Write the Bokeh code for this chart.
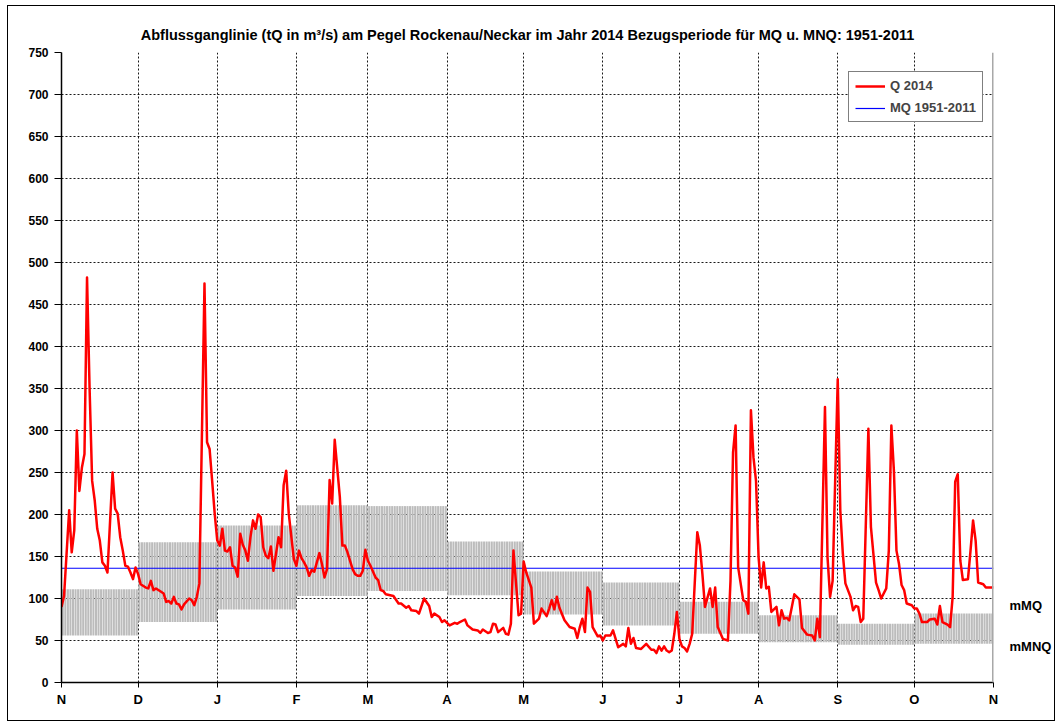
from bokeh.plotting import figure
from bokeh.models import Range1d, FixedTicker, Span, Legend, LegendItem, LinearAxis
from bokeh.embed import file_html
from bokeh.resources import INLINE

# ---------------- data ----------------
month_labels = ["N", "D", "J", "F", "M", "A", "M", "J", "J", "A", "S", "O", "N"]
month_days = [30, 31, 31, 28, 31, 30, 31, 30, 31, 31, 30, 31]
# monthly MQ (top of grey band) and MNQ (bottom of grey band), 1951-2011
month_mq = [111, 167, 187, 211, 210, 168, 132, 119, 96, 80, 70, 82]
month_mnq = [56, 72, 87, 103, 109, 104, 81, 68, 58, 48, 45, 46]
mq_1951_2011 = 136
side_label_values = [92, 43]
side_label_texts = ["mMQ", "mMNQ"]

# daily discharge 2014 (day of hydrological year, m3/s)
q_day = [0, 1, 3, 4, 5, 6, 7, 8, 9, 10, 11, 12, 13, 14, 15, 16, 17, 18, 20, 21, 22, 23, 24, 25, 26, 27, 28, 29, 30,
         31, 33, 34, 35, 36, 37, 39, 40, 41, 42, 43, 44, 45, 46, 47, 48, 50, 51, 52, 53, 54, 56, 57, 58, 59, 60,
         61, 62, 63, 64, 65, 66, 67, 68, 69, 70, 71, 72, 73, 74, 75, 76, 77, 78, 79, 80, 81, 82, 83, 85, 86, 87,
         88, 89, 91, 92, 93, 94, 95, 96, 97, 98, 99, 101, 102, 103, 104, 105, 106, 107, 109, 110, 111, 112, 114,
         115, 116, 117, 118, 119, 120, 121, 123, 124, 125, 126, 127, 130, 132, 133, 135, 136, 137, 139, 140, 142,
         144, 145, 146, 148, 149, 150, 152, 154, 155, 156, 158, 159, 161, 163, 164, 165, 167, 168, 169, 170, 171,
         173, 174, 175, 176, 177, 179, 180, 181, 182, 184, 185, 187, 188, 190, 191, 192, 193, 194, 195, 197, 199,
         201, 202, 203, 204, 205, 206, 207, 208, 210, 211, 212, 213, 215, 216, 218, 220, 221, 222, 223, 224, 225,
         227, 229, 231, 232, 233, 234, 235, 236, 237, 238, 239, 240, 241, 242, 243, 244, 245, 246, 247, 249, 250,
         251, 252, 254, 255, 256, 257, 259, 261, 262, 263, 264, 265, 267, 268, 269, 270, 271, 272, 273, 274, 275,
         276, 277, 278, 280, 281, 282, 283, 284, 285, 287, 289, 290, 292, 294, 295, 296, 297, 299, 300, 301, 302,
         304, 305, 306, 307, 309, 310, 311, 312, 313, 314, 316, 317, 319, 320, 321, 323, 324, 325, 326, 327, 328,
         329, 330, 331, 333, 334, 335, 336, 337, 339, 340, 342, 343, 344, 345, 347, 348, 349, 350, 351, 352, 353,
         355, 356, 357, 358, 359, 361, 362, 365]
q_val = [90, 103, 205, 155, 181, 300, 228, 256, 272, 482, 350, 240, 217, 183, 169, 143, 139, 131, 250, 207, 201, 173,
         157, 139, 138, 131, 123, 137, 129,
         117, 113, 112, 121, 110, 112, 108, 106, 96, 97, 94, 102, 94, 93, 87, 93, 100, 98, 92, 102, 118, 475, 286,
         278, 240, 201,
         169, 163, 183, 157, 156, 161, 139, 137, 126, 177, 164, 157, 145, 173, 193, 183, 200, 197, 161, 151, 148,
         162, 133, 173, 161, 235,
         252, 201, 147, 139, 157, 148, 143, 137, 127, 134, 132, 154, 141, 125, 135, 241, 213, 289, 221, 163, 163,
         155, 135,
         129, 127, 127, 133, 158, 145, 139, 125, 122, 110, 109, 105, 103, 94, 94, 89, 91, 86, 85, 82, 100,
         91, 78, 82, 78, 72, 74, 68, 71, 70, 72, 75, 68, 63, 62, 59, 63, 59, 60, 70, 69, 60,
         65, 58, 57, 70, 157, 80, 82, 144, 131, 113, 70, 76, 88, 79, 88, 98, 87, 102, 89, 74, 66,
         64, 53, 66, 76, 60, 113, 108, 66, 55, 56, 50, 56, 56, 62, 42, 46, 43, 65, 46, 53, 41,
         40, 46, 39, 39, 35, 43, 38, 43, 38, 36, 38, 58, 84, 52, 43, 41, 37, 46, 58, 179, 163,
         129, 90, 112, 90, 113, 66, 52, 50, 121, 274, 306, 137, 98, 96, 82, 324, 268, 240, 149, 113, 143,
         112, 114, 84, 90, 68, 86, 76, 77, 74, 105, 99, 65, 57, 56, 50, 76, 54, 328, 149, 102, 121,
         361, 205, 153, 118, 102, 86, 91, 90, 72, 76, 302, 185, 119, 110, 100, 112, 157, 306, 252, 157, 141,
         116, 110, 94, 92, 88, 88, 82, 72, 72, 75, 76, 69, 91, 72, 69, 66, 102, 239, 248, 145, 122,
         123, 157, 193, 169, 119, 117, 113, 113]

y_ticks = list(range(0, 751, 50))

# ---------------- figure ----------------
FONT = "Liberation Sans"

p = figure(frame_width=932, frame_height=630, output_backend="svg", toolbar_location=None,
           x_range=Range1d(0, 365), y_range=Range1d(0, 750),
           min_border_left=53, min_border_right=60, min_border_top=46, min_border_bottom=38,
           title="Abflussganglinie (tQ in m³/s) am Pegel Rockenau/Neckar im Jahr 2014 Bezugsperiode für MQ u. MNQ: 1951-2011")
p.styles = {"margin-left": "7px", "margin-top": "5px", "border": "1px solid black"}
p.background_fill_color = "white"
p.border_fill_color = "white"
p.outline_line_color = None

p.title.align = "center"
p.title.text_font = FONT
p.title.text_font_style = "bold"
p.title.text_font_size = "14.5px"
p.title.text_color = "black"
p.title.standoff = 20

month_starts = [0]
for d in month_days:
    month_starts.append(month_starts[-1] + d)

# grey daily bars between monthly MNQ and MQ
bx, btop, bbot = [], [], []
for m in range(12):
    for d in range(month_starts[m], month_starts[m + 1]):
        bx.append(d + 0.5)
        btop.append(month_mq[m])
        bbot.append(month_mnq[m])
p.vbar(x=bx, width=0.8, top=btop, bottom=bbot, fill_color="#bcbcbc", line_color=None)

mq_r = p.line([0, 365], [mq_1951_2011, mq_1951_2011], line_color="#0000ff", line_width=1.2)
q_r = p.line(q_day, q_val, line_color="#ff0000", line_width=2.5, line_join="round")

# right edge grey bar
p.add_layout(Span(location=365, dimension="height", line_color="#a8a8a8", line_width=3))

# axes
p.xaxis.ticker = FixedTicker(ticks=month_starts)
p.xaxis.major_label_overrides = {s: l for s, l in zip(month_starts, month_labels)}
p.yaxis.ticker = FixedTicker(ticks=y_ticks)
for ax in (p.xaxis[0], p.yaxis[0]):
    ax.axis_line_color = "black"
    ax.axis_line_width = 1.5
    ax.major_tick_line_color = "black"
    ax.major_tick_in = 0
    ax.minor_tick_line_color = None
    ax.major_label_text_font = FONT
    ax.major_label_text_font_style = "bold"
    ax.major_label_text_color = "black"
p.yaxis.major_tick_out = 7
p.xaxis.major_tick_out = 5
p.yaxis.major_label_text_font_size = "12px"
p.xaxis.major_label_text_font_size = "13px"
p.yaxis.major_label_standoff = 6
p.xaxis.major_label_standoff = 4

# side labels mMQ / mMNQ
side = LinearAxis(ticker=FixedTicker(ticks=side_label_values),
                  major_label_overrides={v: t for v, t in zip(side_label_values, side_label_texts)})
side.axis_line_color = None
side.major_tick_line_color = None
side.minor_tick_line_color = None
side.major_label_standoff = 10
side.major_label_text_font = FONT
side.major_label_text_font_style = "bold"
side.major_label_text_font_size = "13px"
side.major_label_text_color = "black"
p.add_layout(side, "right")

for g in (p.xgrid[0], p.ygrid[0]):
    g.grid_line_color = "black"
    g.grid_line_dash = "2 2"
    g.grid_line_width = 1
    g.grid_line_alpha = 0.9

legend = Legend(items=[LegendItem(label="Q 2014", renderers=[q_r]),
                       LegendItem(label="MQ 1951-2011", renderers=[mq_r])],
                location=(787, 560))
legend.label_text_font = FONT
legend.label_text_font_style = "bold"
legend.label_text_font_size = "13px"
legend.label_height = 14
legend.glyph_height = 14
legend.glyph_width = 30
legend.spacing = 7
legend.padding = 6
legend.margin = 0
legend.border_line_color = "black"
legend.border_line_width = 1
legend.background_fill_color = "white"
legend.background_fill_alpha = 1
p.add_layout(legend)

open("out.html", "w").write(file_html(p, INLINE))
